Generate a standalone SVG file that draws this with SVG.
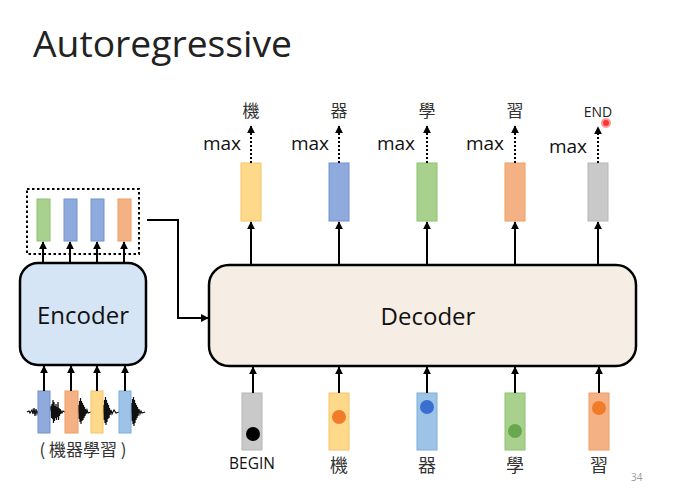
<svg xmlns="http://www.w3.org/2000/svg" width="684" height="500" viewBox="0 0 684 500">
<defs>
<marker id="ah" viewBox="0 0 10 10" refX="9" refY="5" markerWidth="4" markerHeight="4" orient="auto"><path d="M0,0 L10,5 L0,10 z" fill="#000"/></marker>
<style>
.lbl{font-family:"Open Sans","Liberation Sans",sans-serif;fill:#111}
.cjk{font-family:"Noto Sans CJK TC","Noto Sans CJK SC",sans-serif;fill:#333}
.arr{stroke:#000;stroke-width:2;fill:none;marker-end:url(#ah)}
.dot{stroke:#000;stroke-width:2;stroke-dasharray:2 2;fill:none;marker-end:url(#ah)}
.y{fill:#ffd98a;stroke:#f5c36a}
.b{fill:#8faadc;stroke:#7393cc}
.lb{fill:#9dc3e6;stroke:#7eaed8}
.g{fill:#a9d18e;stroke:#8fc071}
.o{fill:#f4b183;stroke:#ef9c63}
.gr{fill:#c9c9c9;stroke:#b5b5b5}
</style>
</defs>
<rect width="684" height="500" fill="#fff"/>
<text x="33" y="57" class="lbl" font-size="37" textLength="259" lengthAdjust="spacingAndGlyphs" style="fill:#222">Autoregressive</text>

<g id="encoder">
<rect x="20" y="263" width="126" height="102" rx="18" fill="#d5e5f5" stroke="#000" stroke-width="2.5"/>
<text x="83" y="324" class="lbl" font-size="24" text-anchor="middle">Encoder</text>
</g>
<g id="encoder-output">
<rect x="27" y="189" width="112" height="65" fill="none" stroke="#000" stroke-width="2" stroke-dasharray="2.5 2.5"/>
<rect x="37" y="199" width="13" height="42" class="g"/>
<rect x="64" y="199" width="13" height="42" class="b"/>
<rect x="91" y="199" width="13" height="42" class="b"/>
<rect x="118" y="199" width="13" height="42" class="o"/>
</g>
<g id="encoder-input">
<path d="M27,412 L29,411 30,413 32,410 33,414 34,408 35,416 36,409 37,414 38,411 50,410 51,406 51.5,418 52,404 52.5,419 53,400 53.5,423 54,402 54.5,421 55,406 55.5,418 56,404 56.5,420 57,407 57.5,417 58,402 58.5,420 59,408 59.5,416 60,409 60.5,414 61,411 62,413 63,411 65,412 78,412 78.5,405 79,419 79.5,401 80,422 80.5,398 81,424 81.5,401 82,421 82.5,403 83,420 83.5,405 84,418 84.5,407 85,416 85.5,409 86,414 87,410 88,413 91,412 103,412 103.5,405 104,420 104.5,400 105,423 105.5,397 106,425 106.5,400 107,422 107.5,403 108,419 108.5,405 109,418 109.5,408 110,415 111,410 112,414 114,410 116,413 119,412 131,412 131.5,403 132,421 132.5,399 133,424 133.5,397 134,426 134.5,400 135,423 135.5,403 136,420 136.5,405 137,418 137.5,407 138,416 139,409 140,414 141,411 142,413 145,412" fill="none" stroke="#111" stroke-width="1.2"/>
<rect x="38" y="391" width="12" height="42" class="b"/>
<rect x="65" y="391" width="13" height="42" class="o"/>
<rect x="91" y="391" width="12" height="42" class="y"/>
<rect x="119" y="391" width="12" height="42" class="lb"/>
<text x="83" y="456" class="cjk" font-size="17" text-anchor="middle">( 機器學習 )</text>
</g>

<g id="decoder">
<rect x="209" y="265" width="427" height="101" rx="20" fill="#f6eee4" stroke="#000" stroke-width="2.5"/>
<text x="428" y="325" class="lbl" font-size="24" text-anchor="middle">Decoder</text>
</g>

<g id="outputs">
<rect x="241" y="163" width="20" height="58" class="y"/>
<rect x="329" y="163" width="20" height="58" class="b"/>
<rect x="417" y="163" width="20" height="58" class="g"/>
<rect x="505" y="163" width="20" height="58" class="o"/>
<rect x="588" y="163" width="20" height="58" class="gr"/>
<text x="251" y="117" class="cjk" font-size="17" text-anchor="middle">機</text>
<text x="339" y="117" class="cjk" font-size="17" text-anchor="middle">器</text>
<text x="427" y="117" class="cjk" font-size="17" text-anchor="middle">學</text>
<text x="515" y="117" class="cjk" font-size="17" text-anchor="middle">習</text>
<text x="598" y="117" class="lbl" font-size="14" text-anchor="middle" style="fill:#222">END</text>
<text x="222" y="150" class="lbl" font-size="19" text-anchor="middle">max</text>
<text x="310" y="150" class="lbl" font-size="19" text-anchor="middle">max</text>
<text x="396" y="150" class="lbl" font-size="19" text-anchor="middle">max</text>
<text x="485" y="150" class="lbl" font-size="19" text-anchor="middle">max</text>
<text x="568" y="153" class="lbl" font-size="19" text-anchor="middle">max</text>
<circle cx="606" cy="123" r="4" fill="#f33" stroke="#f99" stroke-width="2"/>
</g>

<g id="inputs">
<rect x="242" y="393" width="20" height="57" class="gr"/>
<circle cx="253" cy="434" r="7" fill="#000"/>
<rect x="329" y="393" width="20" height="57" class="y"/>
<circle cx="339" cy="417" r="7" fill="#f07c2a"/>
<rect x="417" y="393" width="20" height="57" class="lb"/>
<circle cx="427" cy="407" r="7" fill="#3a6fcf"/>
<rect x="505" y="393" width="20" height="57" class="g"/>
<circle cx="515" cy="431" r="7" fill="#6aa84f"/>
<rect x="589" y="393" width="20" height="57" class="o"/>
<circle cx="599" cy="408" r="7" fill="#f07c2a"/>
<text x="252" y="469" class="lbl" font-size="15.5" text-anchor="middle">BEGIN</text>
<text x="339" y="472" class="cjk" font-size="18" text-anchor="middle">機</text>
<text x="427" y="472" class="cjk" font-size="18" text-anchor="middle">器</text>
<text x="515" y="472" class="cjk" font-size="18" text-anchor="middle">學</text>
<text x="599" y="472" class="cjk" font-size="18" text-anchor="middle">習</text>
</g>

<g id="connectors">
<path class="arr" d="M43,263 V242"/>
<path class="arr" d="M70,263 V242"/>
<path class="arr" d="M97,263 V242"/>
<path class="arr" d="M124,263 V242"/>
<path class="arr" d="M44,391 V366"/>
<path class="arr" d="M71,391 V366"/>
<path class="arr" d="M97,391 V366"/>
<path class="arr" d="M125,391 V366"/>
<path class="arr" d="M147,220 H178 V318 H208"/>
<path class="arr" d="M251,265 V222"/>
<path class="arr" d="M339,265 V222"/>
<path class="arr" d="M427,265 V222"/>
<path class="arr" d="M515,265 V222"/>
<path class="arr" d="M598,265 V222"/>
<path class="dot" d="M251,163 V126"/>
<path class="dot" d="M339,163 V126"/>
<path class="dot" d="M427,163 V126"/>
<path class="dot" d="M515,163 V126"/>
<path class="dot" d="M598,163 V127"/>
<path class="arr" d="M253,393 V367"/>
<path class="arr" d="M339,393 V367"/>
<path class="arr" d="M427,393 V367"/>
<path class="arr" d="M515,393 V367"/>
<path class="arr" d="M599,393 V367"/>
</g>
<text x="631" y="481" class="lbl" font-size="10" style="fill:#999">34</text>
</svg>
